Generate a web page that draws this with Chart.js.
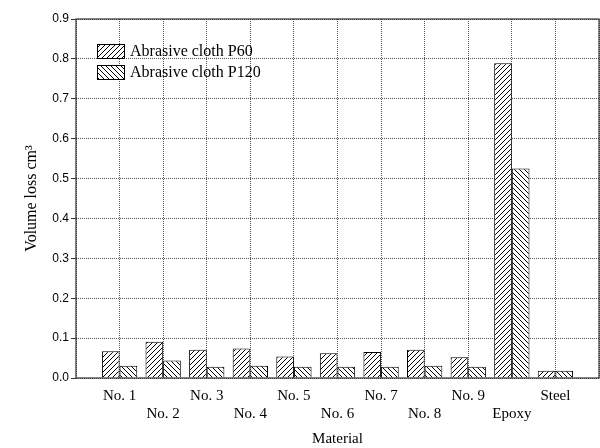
<!DOCTYPE html>
<html>
<head>
<meta charset="utf-8">
<script src="https://cdn.jsdelivr.net/npm/chart.js@4/dist/chart.umd.min.js"></script>
<style>html,body{margin:0;padding:0;background:#fff;}canvas{display:block;}</style>
</head>
<body>
<canvas id="c" width="600" height="448"></canvas>
<script>
const categories = ['No. 1','No. 2','No. 3','No. 4','No. 5','No. 6','No. 7','No. 8','No. 9','Epoxy','Steel'];
const p60  = [0.067,0.091,0.071,0.074,0.054,0.062,0.065,0.071,0.052,0.789,0.018];
const p120 = [0.031,0.044,0.028,0.031,0.028,0.028,0.028,0.031,0.028,0.525,0.018];
const seriesNames = ['Abrasive cloth P60','Abrasive cloth P120'];
const yTicks = [0,0.1,0.2,0.3,0.4,0.5,0.6,0.7,0.8,0.9];

const canvas = document.getElementById('c');
const ctx = canvas.getContext('2d');

function hatch(dir){
  const s = 5;
  const c = document.createElement('canvas');
  c.width = s; c.height = s;
  const g = c.getContext('2d');
  g.fillStyle = '#fff'; g.fillRect(0,0,s,s);
  g.strokeStyle = '#000'; g.lineWidth = 1;
  g.beginPath();
  if (dir > 0) {
    g.moveTo(-1, s+1); g.lineTo(s+1, -1);
  } else {
    g.moveTo(-1, -1); g.lineTo(s+1, s+1);
  }
  g.stroke();
  return ctx.createPattern(c, 'repeat');
}
const pat60 = hatch(1), pat120 = hatch(-1);

const labels = [''].concat(categories, ['']);
const pad = arr => [null].concat(arr, [null]);

const framePlugin = {
  id: 'frame',
  afterDraw(chart){
    const a = chart.chartArea, g = chart.ctx;
    g.save();
    g.strokeStyle = '#333'; g.lineWidth = 1.2;
    g.strokeRect(a.left, a.top, a.right - a.left, a.bottom - a.top);
    // legend
    const items = [pat60, pat120];
    g.font = '16px "Liberation Serif", "Times New Roman", serif';
    g.textBaseline = 'middle';
    g.textAlign = 'left';
    items.forEach((p, i) => {
      const y = 44 + i * 21;
      g.fillStyle = p;
      g.fillRect(97, y, 27, 14);
      g.strokeStyle = '#000'; g.lineWidth = 1;
      g.strokeRect(97.5, y + 0.5, 27, 14);
      g.fillStyle = '#000';
      g.fillText(seriesNames[i], 130, y + 8);
    });
    g.restore();
  }
};

new Chart(ctx, {
  type: 'bar',
  data: {
    labels: labels,
    datasets: [
      { label: seriesNames[0], data: pad(p60), backgroundColor: pat60, borderColor: '#000', borderWidth: 1, barPercentage: 1, categoryPercentage: 0.81 },
      { label: seriesNames[1], data: pad(p120), backgroundColor: pat120, borderColor: '#000', borderWidth: 1, barPercentage: 1, categoryPercentage: 0.81 }
    ]
  },
  options: {
    responsive: false,
    animation: false,
    devicePixelRatio: 1,
    layout: { padding: { left: 18, top: 19, right: 1, bottom: 0 } },
    plugins: { legend: { display: false }, tooltip: { enabled: false } },
    scales: {
      x: {
        offset: false,
        grid: { offset: false, color: '#555', drawTicks: false },
        border: { display: false, dash: [1,1] },
        ticks: {
          autoSkip: false, maxRotation: 0, padding: 9,
          color: '#000',
          font: { family: '"Liberation Serif", "Times New Roman", serif', size: 15 },
          callback: function(v, i){
            const l = labels[i];
            if (!l) return '';
            return (i % 2 === 0) ? ['', l] : l;
          }
        },
        title: { display: true, text: 'Material', color: '#000', padding: { top: 4, bottom: 0 },
          font: { family: '"Liberation Serif", "Times New Roman", serif', size: 15 } },
        afterFit(s){ s.height = 70; s.paddingLeft = 0; s.paddingRight = 0; }
      },
      y: {
        min: 0, max: 0.9,
        afterBuildTicks(s){ s.ticks = yTicks.map(v => ({ value: v })); },
        grid: { color: '#555', tickColor: '#333', tickLength: 5, tickBorderDash: [] },
        border: { display: false, dash: [1,1] },
        ticks: {
          color: '#000', padding: 2,
          font: { family: '"Liberation Sans", Arial, sans-serif', size: 12 },
          callback: v => Number(v).toFixed(1)
        },
        title: { display: true, text: 'Volume loss cm³', color: '#000',
          font: { family: '"Liberation Serif", "Times New Roman", serif', size: 16 } },
        afterFit(s){ s.width = 58; s.paddingTop = 0; s.paddingBottom = 0; }
      }
    }
  },
  plugins: [framePlugin]
});
</script>
</body>
</html>
